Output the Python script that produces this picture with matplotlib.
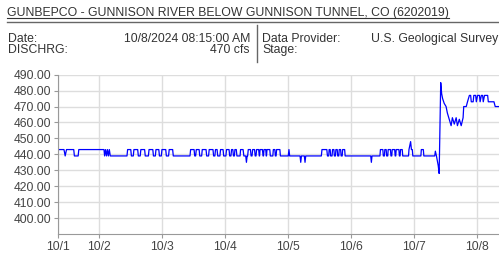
import matplotlib
matplotlib.use("Agg")
import matplotlib.pyplot as plt
from matplotlib.lines import Line2D

plt.rcParams['font.family'] = ['Liberation Sans', 'DejaVu Sans']

# station header
title = "GUNBEPCO - GUNNISON RIVER BELOW GUNNISON TUNNEL, CO (6202019)"
date_label, date_value = "Date:", "10/8/2024 08:15:00 AM"
flow_label, flow_value = "DISCHRG:", "470 cfs"
provider_label, provider_value = "Data Provider:", "U.S. Geological Survey"
stage_label = "Stage:"

# x axis: days since 10/1 00:00
tick_days = [0.35, 1, 2, 3, 4, 5, 6, 7]
tick_labels = ["10/1", "10/2", "10/3", "10/4", "10/5", "10/6", "10/7", "10/8"]
y_ticks = [400, 410, 420, 430, 440, 450, 460, 470, 480, 490]

# discharge readings (day, cfs)
days = [
    0.37, 0.445, 0.464, 0.485, 0.600, 0.610, 0.670, 0.680,
    1.080, 1.090, 1.105, 1.120, 1.135, 1.150, 1.165, 1.180,
    1.445, 1.455, 1.505, 1.515, 1.545, 1.555, 1.615, 1.625,
    1.655, 1.665, 1.725, 1.735, 1.785, 1.795, 1.855, 1.865,
    1.895, 1.905, 1.950, 1.960, 1.990, 2.000, 2.060, 2.070,
    2.105, 2.115, 2.170, 2.180, 2.445, 2.455, 2.510, 2.520,
    2.535, 2.545, 2.590, 2.600, 2.630, 2.640, 2.700, 2.710,
    2.740, 2.750, 2.810, 2.820, 2.840, 2.850, 2.875, 2.885,
    2.920, 2.930, 2.970, 2.980, 3.015, 3.025, 3.065, 3.075,
    3.095, 3.105, 3.125, 3.135, 3.150, 3.158, 3.180, 3.190,
    3.240, 3.248, 3.288, 3.300, 3.330, 3.341, 3.352,
    3.360, 3.370, 3.405, 3.415, 3.430, 3.440, 3.470, 3.480,
    3.493, 3.502, 3.535, 3.545, 3.550, 3.557, 3.595, 3.605,
    3.612, 3.620, 3.648, 3.655, 3.660, 3.667, 3.712, 3.720,
    3.760, 3.768, 3.792, 3.800, 3.812, 3.820, 3.872, 3.880,
    4.005, 4.016, 4.027, 4.192, 4.203, 4.214, 4.260, 4.271, 4.282,
    4.530, 4.540, 4.617, 4.627, 4.647, 4.654, 4.670, 4.678,
    4.700, 4.708, 4.729, 4.737, 4.754, 4.761, 4.782, 4.790,
    4.807, 4.814, 4.836, 4.844, 4.861, 4.868, 4.900, 4.908,
    5.314, 5.324, 5.334,
    5.460, 5.468, 5.506, 5.514, 5.531, 5.538, 5.559, 5.567,
    5.584, 5.591, 5.627, 5.635, 5.648, 5.655, 5.694, 5.702,
    5.711, 5.718, 5.761, 5.769, 5.780, 5.787, 5.814, 5.822,
    5.914, 5.921, 5.947, 5.960, 5.974, 5.982,
    6.110, 6.117, 6.149, 6.157, 6.330, 6.340, 6.357,
    6.385, 6.400, 6.425, 6.440, 6.455, 6.480, 6.510, 6.530,
    6.560, 6.590, 6.610, 6.640, 6.670, 6.690, 6.720, 6.750,
    6.780, 6.790, 6.830, 6.850, 6.880, 6.900, 6.910, 6.940,
    6.950, 6.980, 6.990, 7.010, 7.040, 7.050, 7.070, 7.090,
    7.100, 7.120, 7.150, 7.170, 7.180, 7.270, 7.290, 7.350,
]
cfs = [
    443, 443, 439, 443, 443, 439, 439, 443,
    443, 439, 443, 439, 443, 439, 443, 439,
    439, 443, 443, 439, 439, 443, 443, 439,
    439, 443, 443, 439, 439, 443, 443, 439,
    439, 443, 443, 439, 439, 443, 443, 439,
    439, 443, 443, 439, 439, 443, 443, 439,
    439, 443, 443, 439, 439, 443, 443, 439,
    439, 443, 443, 439, 439, 443, 443, 439,
    439, 443, 443, 439, 439, 443, 443, 439,
    439, 443, 443, 439, 439, 443, 443, 439,
    439, 443, 443, 439, 439, 435, 439,
    439, 443, 443, 439, 439, 443, 443, 439,
    439, 443, 443, 439, 439, 443, 443, 439,
    439, 443, 443, 439, 439, 443, 443, 439,
    439, 443, 443, 439, 439, 443, 443, 439,
    439, 443, 439, 439, 435, 439, 439, 435, 439,
    439, 443, 443, 439, 439, 443, 443, 439,
    439, 443, 443, 439, 439, 443, 443, 439,
    439, 443, 443, 439, 439, 443, 443, 439,
    439, 435, 439,
    439, 443, 443, 439, 439, 443, 443, 439,
    439, 443, 443, 439, 439, 443, 443, 439,
    439, 443, 443, 439, 439, 443, 443, 439,
    439, 443, 448, 443, 443, 439,
    439, 443, 443, 439, 439, 442, 439,
    433, 428, 485, 478, 475, 472, 470, 466,
    462, 458, 463, 459, 463, 458, 462, 458,
    463, 470, 470, 473, 477, 477, 473, 473,
    477, 477, 473, 477, 477, 473, 477, 477,
    473, 477, 477, 477, 473, 473, 470, 470,
]

W, H = 499, 258
fig = plt.figure(figsize=(W / 100, H / 100), dpi=100)

txt = "#333333"
t = fig.text(7 / W, 1 - 16 / H, title, fontsize=8.8, color=txt, ha="left", va="baseline")
fig.add_artist(Line2D([7 / W, 499 / W], [1 - 22 / H] * 2, color="#666666", lw=1))

row1, row2 = 1 - 41.5 / H, 1 - 53.3 / H
hs = 8.8
fig.text(8 / W, row1, date_label, fontsize=hs, color=txt, va="baseline")
fig.text(250 / W, row1, date_value, fontsize=hs, color=txt, va="baseline", ha="right")
fig.text(8 / W, row2, flow_label, fontsize=hs, color=txt, va="baseline")
fig.text(250 / W, row2, flow_value, fontsize=hs, color=txt, va="baseline", ha="right")
fig.text(262 / W, row1, provider_label, fontsize=hs, color=txt, va="baseline")
fig.text(498 / W, row1, provider_value, fontsize=hs, color=txt, va="baseline", ha="right")
fig.text(262 / W, row2, stage_label, fontsize=hs, color=txt, va="baseline")
fig.add_artist(Line2D([257 / W] * 2, [1 - 25 / H, 1 - 62 / H], color="#666666", lw=1))

ax = fig.add_axes([58 / W, 24 / H, 441 / W, (234 - 74.7) / H])
ax.plot(days, cfs, color="#0000ff", lw=0.9)

ax.set_xlim(0.35, 7.35)
ax.set_ylim(390, 490)
ax.set_xticks(tick_days)
ax.set_xticklabels(tick_labels)
ax.set_yticks(y_ticks)
ax.set_yticklabels([f"{v:.2f}" for v in y_ticks])
ax.grid(True, color="#dddddd", lw=1)
ax.set_axisbelow(True)
for s in ["top", "right"]:
    ax.spines[s].set_visible(False)
for s in ["left", "bottom"]:
    ax.spines[s].set_color("#999999")
ax.tick_params(colors="#999999", labelcolor="#444444", labelsize=8.7, length=3, pad=2)

# underline for the title
fig.canvas.draw()
bb = t.get_window_extent()
fig.add_artist(Line2D([bb.x0 / W, bb.x1 / W], [(H - 17.7) / H] * 2, color=txt, lw=0.8))

fig.savefig("out.png", dpi=100)
